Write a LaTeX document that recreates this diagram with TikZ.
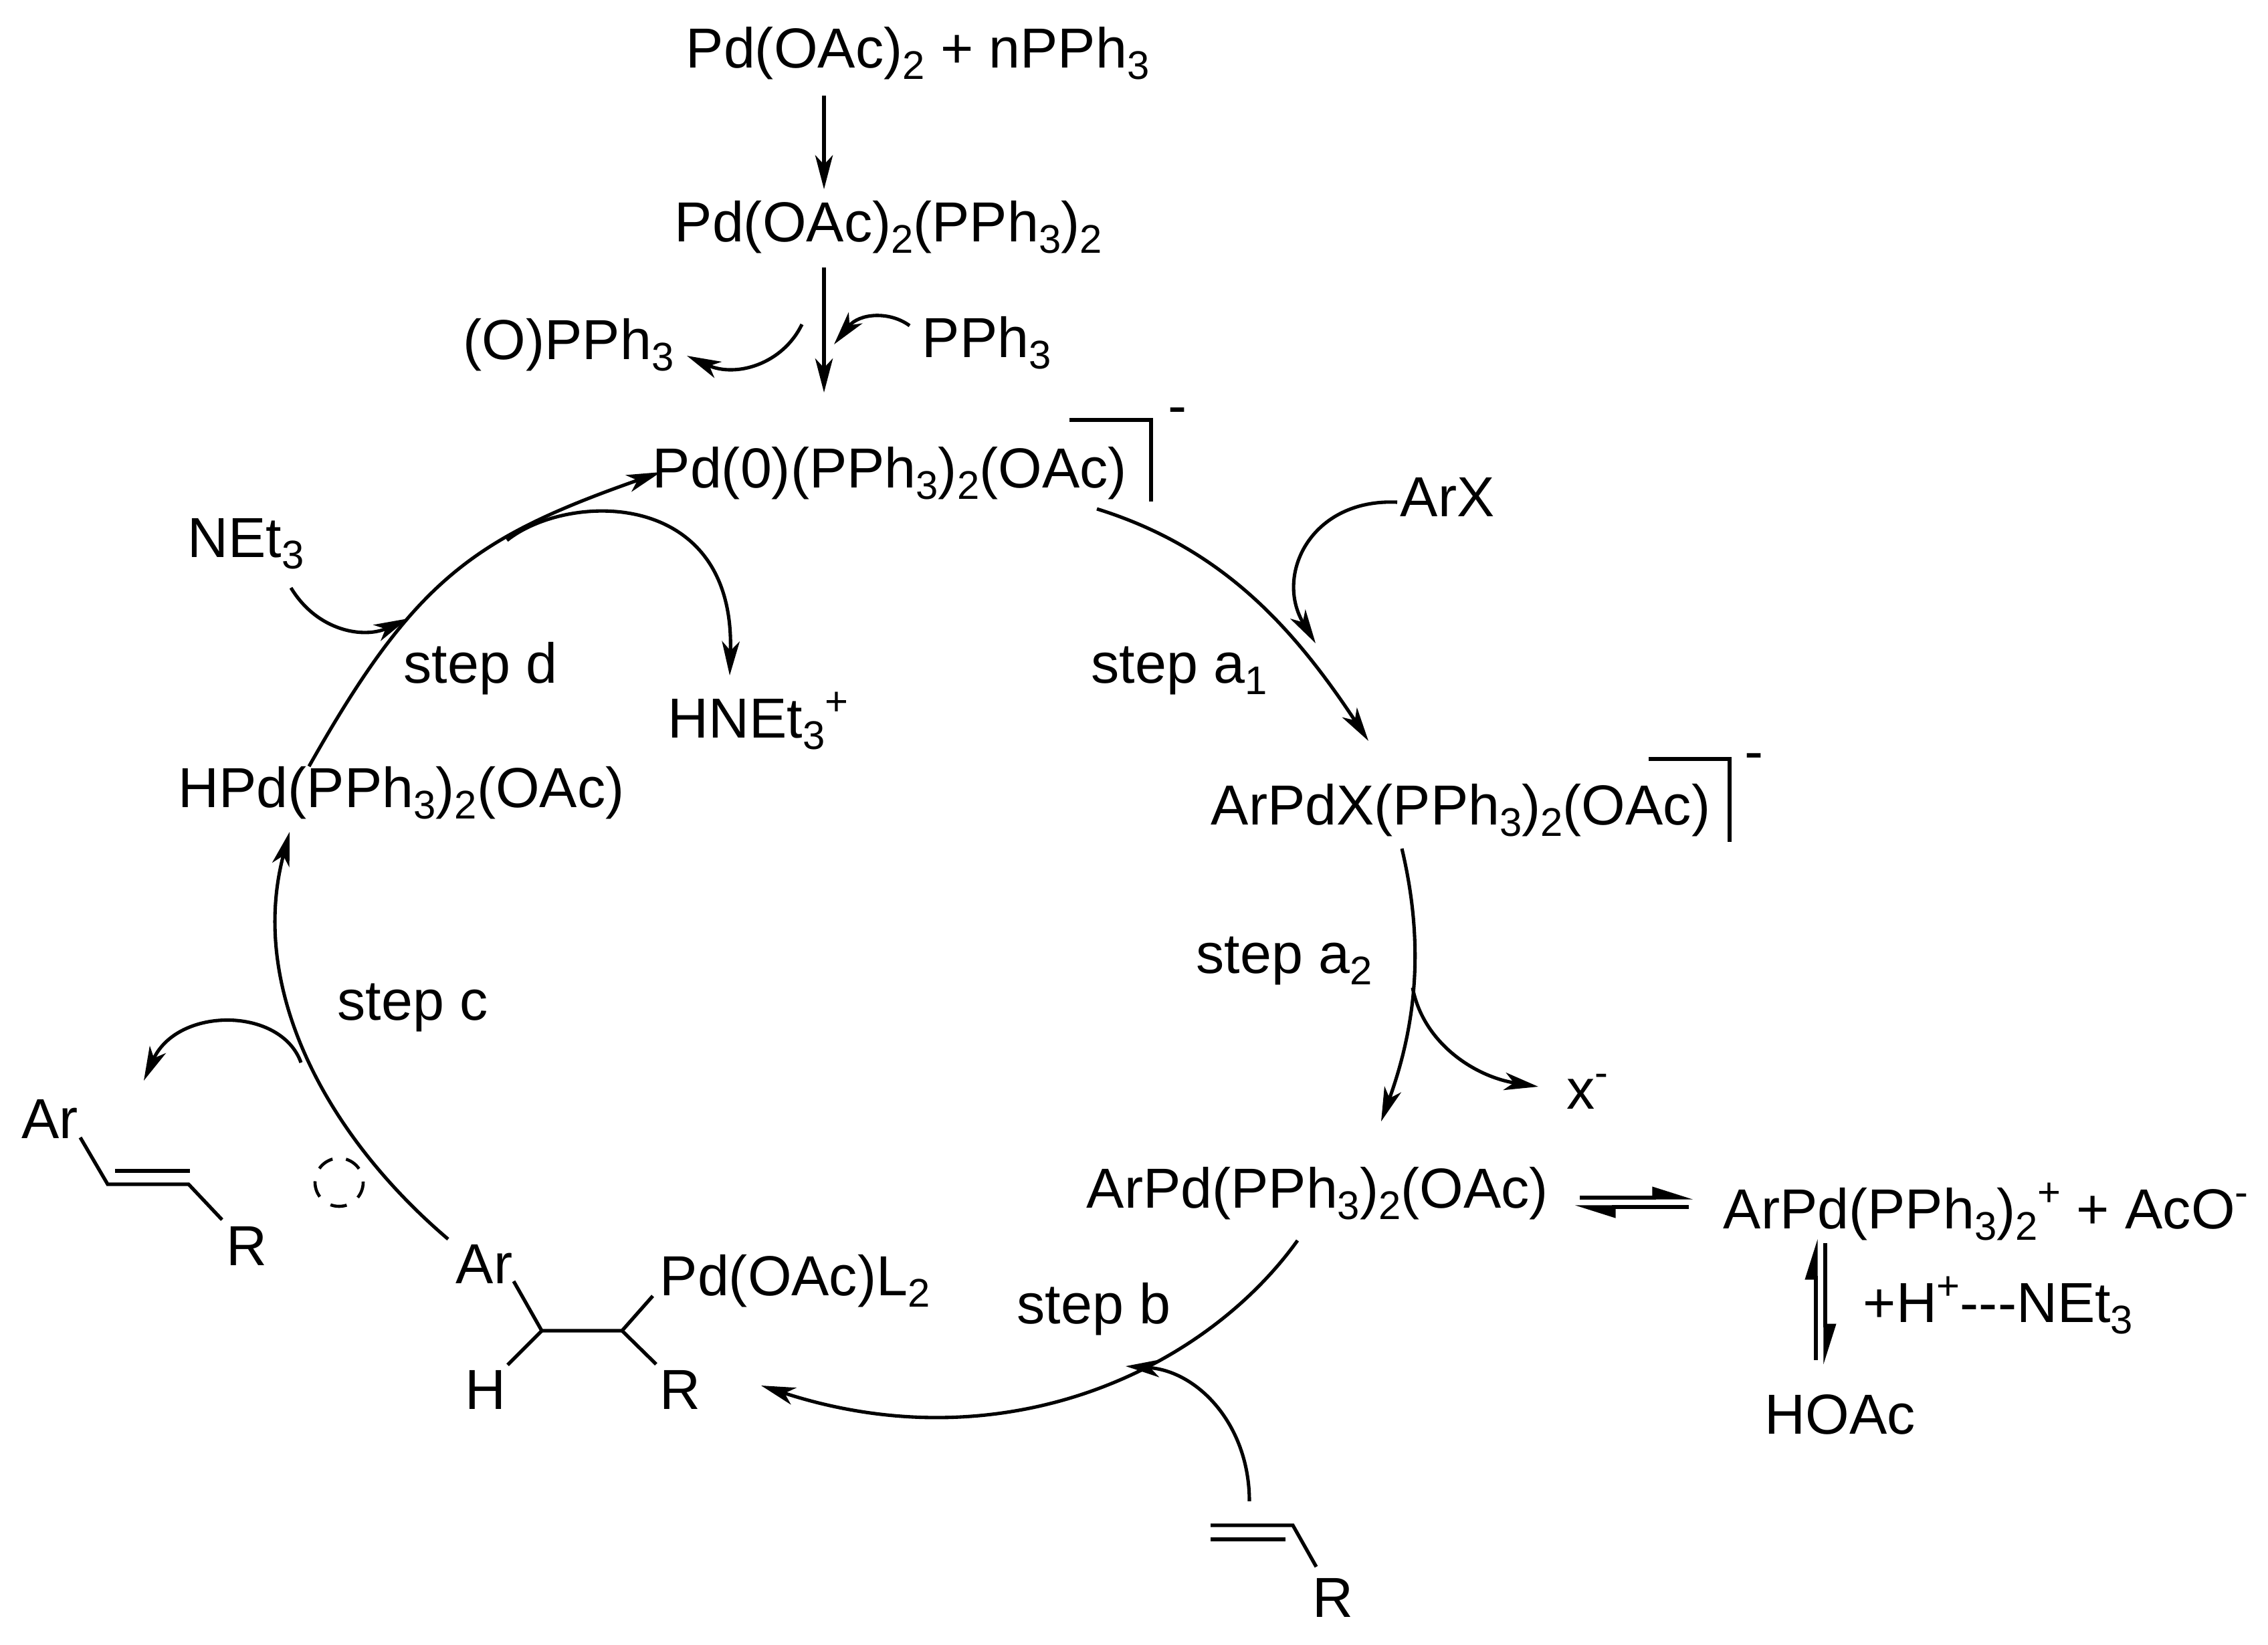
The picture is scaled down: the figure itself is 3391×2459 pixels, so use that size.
\documentclass[tikz,border=0pt]{standalone}
\usepackage{fontspec}
\setmainfont{Liberation Sans}
\usetikzlibrary{arrows.meta}
\usetikzlibrary{calc}
\newcommand{\chemfont}{\fontsize{24}{28}\selectfont}
\newcommand{\chemsub}[1]{\raisebox{-5pt}{\fontsize{17}{18}\selectfont #1}}
\newcommand{\chemsup}[1]{\raisebox{9.5pt}{\fontsize{17}{18}\selectfont #1}}
\tikzset{
    chem/.style={anchor=base west,inner sep=0pt,font=\chemfont},
    bond/.style={line width=1.5pt},
    rxn/.style={line width=1.45pt,-{Stealth[length=14.5pt,width=7.5pt,inset=4pt]}},
    harpup/.style={line width=1.5pt,-{Stealth[left,length=15pt,width=9pt,inset=0pt]}},
    sign/.style={inner sep=0pt,font=\chemfont},
}
\begin{document}
\begin{tikzpicture}[x=0.01cm,y=-0.01cm]
    \useasboundingbox (0,0) rectangle (3391,2459);
    % species
    \node[chem] (start) at (1025,101) {Pd(OAc)\chemsub{2} + nPPh\chemsub{3}};
    \node[chem] (precat) at (1008,361) {Pd(OAc)\chemsub{2}(PPh\chemsub{3})\chemsub{2}};
    \node[chem] (oxide) at (692,537) {(O)PPh\chemsub{3}};
    \node[chem] (phos) at (1378,534) {PPh\chemsub{3}};
    \node[chem] (pdzero) at (975,729) {Pd(0)(PPh\chemsub{3})\chemsub{2}(OAc)};
    \node[sign] (pdminus) at (1761,623) {-};
    \node[chem] (arx) at (2093,772) {ArX};
    \node[chem] (arpdx) at (1810,1233) {ArPdX(PPh\chemsub{3})\chemsub{2}(OAc)};
    \node[sign] (arpdxminus) at (2623,1140) {-};
    \node[chem] (halide) at (2342,1658) {x\chemsup{-}};
    \node[chem] (arpd) at (1624,1806) {ArPd(PPh\chemsub{3})\chemsub{2}(OAc)};
    \node[chem] (cation) at (2576,1837) {ArPd(PPh\chemsub{3})\chemsub{2}\chemsup{+} + AcO\chemsup{-}};
    \node[chem] (base) at (2785,1977) {+H\chemsup{+}-{}-{}-NEt\chemsub{3}};
    \node[chem] (hoac) at (2638,2144) {HOAc};
    \node[chem] (pdl) at (986,1937) {Pd(OAc)L\chemsub{2}};
    \node[chem] (arb) at (681,1919) {Ar};
    \node[chem] (hb) at (695,2107) {H};
    \node[chem] (rb) at (986,2107) {R};
    \node[chem] (arp) at (32,1702) {Ar};
    \node[chem] (rp) at (338,1892) {R};
    \node[chem] (ra) at (1962,2418) {R};
    \node[chem] (hpd) at (266,1207) {HPd(PPh\chemsub{3})\chemsub{2}(OAc)};
    \node[chem] (net) at (280,833) {NEt\chemsub{3}};
    \node[chem] (hnet) at (998,1103) {HNEt\chemsub{3}\chemsup{+}};
    % step labels
    \node[chem] (stepaone) at (1631,1021) {step a\chemsub{1}};
    \node[chem] (stepatwo) at (1788,1455) {step a\chemsub{2}};
    \node[chem] (stepb) at (1520,1979) {step b};
    \node[chem] (stepc) at (504,1525) {step c};
    \node[chem] (stepd) at (603,1021) {step d};
    % free ends of the arrows
    \coordinate (topin) at (1232,143);
    \coordinate (topout) at (1232,283);
    \coordinate (preout) at (1232,400);
    \coordinate (prein) at (1232,587);
    \coordinate (phosa) at (1360,487);
    \coordinate (phosb) at (1247,515);
    \coordinate (oxa) at (1199,485);
    \coordinate (oxb) at (1027,532);
    \coordinate (aonea) at (1640,761);
    \coordinate (aoneb) at (2046,1108);
    \coordinate (arxa) at (2089,751);
    \coordinate (arxb) at (1967,962);
    \coordinate (atwoa) at (2096,1269);
    \coordinate (atwob) at (2065,1677);
    \coordinate (hala) at (2112,1477);
    \coordinate (halb) at (2300,1625);
    \coordinate (stepba) at (1940,1855);
    \coordinate (stepbb) at (1138,2072);
    \coordinate (olefa) at (1868,2245);
    \coordinate (olefb) at (1683,2043);
    \coordinate (stepca) at (670,1853);
    \coordinate (stepcb) at (433,1244);
    \coordinate (proda) at (450,1589);
    \coordinate (prodb) at (215,1616);
    \coordinate (stepda) at (462,1146);
    \coordinate (stepdb) at (988,706);
    \coordinate (hneta) at (758,808);
    \coordinate (hnetb) at (1091,1010);
    \coordinate (neta) at (435,879);
    \coordinate (netb) at (610,925);
    \coordinate (eqa) at (2362,1791);
    \coordinate (eqb) at (2532,1791);
    \coordinate (eqc) at (2525,1805);
    \coordinate (eqd) at (2354,1805);
    \coordinate (eqe) at (2715,2034);
    \coordinate (eqf) at (2715,1852);
    \coordinate (eqg) at (2729,1859);
    \coordinate (eqh) at (2729,2041);
    % bracket corners
    \coordinate (brakaa) at (1599,628);
    \coordinate (brakab) at (1721,628);
    \coordinate (brakac) at (1721,750);
    \coordinate (brakba) at (2465,1135);
    \coordinate (brakbb) at (2586,1135);
    \coordinate (brakbc) at (2586,1259);
    % bonds
    \coordinate (pa) at (120,1701);
    \coordinate (pb) at (161,1771);
    \coordinate (pc) at (282,1771);
    \coordinate (pd) at (172,1751);
    \coordinate (pe) at (284,1751);
    \coordinate (pf) at (332,1824);
    \coordinate (ba) at (768,1916);
    \coordinate (bb) at (810,1990);
    \coordinate (bc) at (930,1990);
    \coordinate (bd) at (976,1938);
    \coordinate (be) at (759,2041);
    \coordinate (bf) at (981,2040);
    \coordinate (aa) at (1810,2281);
    \coordinate (ab) at (1933,2281);
    \coordinate (ac) at (1810,2302);
    \coordinate (ad) at (1922,2302);
    \coordinate (ae) at (1968,2343);
    % straight arrows
    \draw[rxn] (topin) -- (topout);
    \draw[rxn] (preout) -- (prein);
    % small curved arrows
    \draw[rxn] (phosa) .. controls (1330,465) and (1285,468) .. (phosb);
    \draw[rxn] (oxa) .. controls (1170,545) and (1100,565) .. (oxb);
    \draw[rxn] (arxa) .. controls (1960,745) and (1905,860) .. (arxb);
    \draw[rxn] (hala) .. controls (2128,1560) and (2205,1610) .. (halb);
    \draw[rxn] (olefa) .. controls (1868,2130) and (1790,2050) .. (olefb);
    \draw[rxn] (proda) .. controls (420,1505) and (265,1505) .. (prodb);
    \draw[rxn] (hneta) .. controls (850,735) and (1100,730) .. (hnetb);
    \draw[rxn] (neta) .. controls (475,945) and (545,955) .. (netb);
    % the cycle
    \draw[rxn] (aonea) .. controls (1830,820) and (1936,942) .. (aoneb);
    \draw[rxn] (atwoa) .. controls (2127,1400) and (2122,1520) .. (atwob);
    \draw[rxn] (stepba) .. controls (1800,2050) and (1500,2190) .. (stepbb);
    \draw[rxn] (stepca) .. controls (490,1700) and (370,1480) .. (stepcb);
    \draw[rxn] (stepda) .. controls (619,868) and (706,805) .. (stepdb);
    % equilibria
    \draw[harpup] (eqa) -- (eqb);
    \draw[harpup] (eqc) -- (eqd);
    \draw[harpup] (eqe) -- (eqf);
    \draw[harpup] (eqg) -- (eqh);
    % brackets
    \draw[bond] (brakaa) -- (brakab) -- (brakac);
    \draw[bond] (brakba) -- (brakbb) -- (brakbc);
    % olefins and the insertion product
    \draw[bond] (pa) -- (pb) -- (pc) -- (pf);
    \draw[bond] (pd) -- (pe);
    \draw[bond] (ba) -- (bb) -- (bc) -- (bd);
    \draw[bond] (bb) -- (be);
    \draw[bond] (bc) -- (bf);
    \draw[bond] (aa) -- (ab) -- (ae);
    \draw[bond] (ac) -- (ad);
    \draw[line width=1.3pt,dash pattern=on 7pt off 5.8pt] (507,1768) circle (36);
\end{tikzpicture}
\end{document}
